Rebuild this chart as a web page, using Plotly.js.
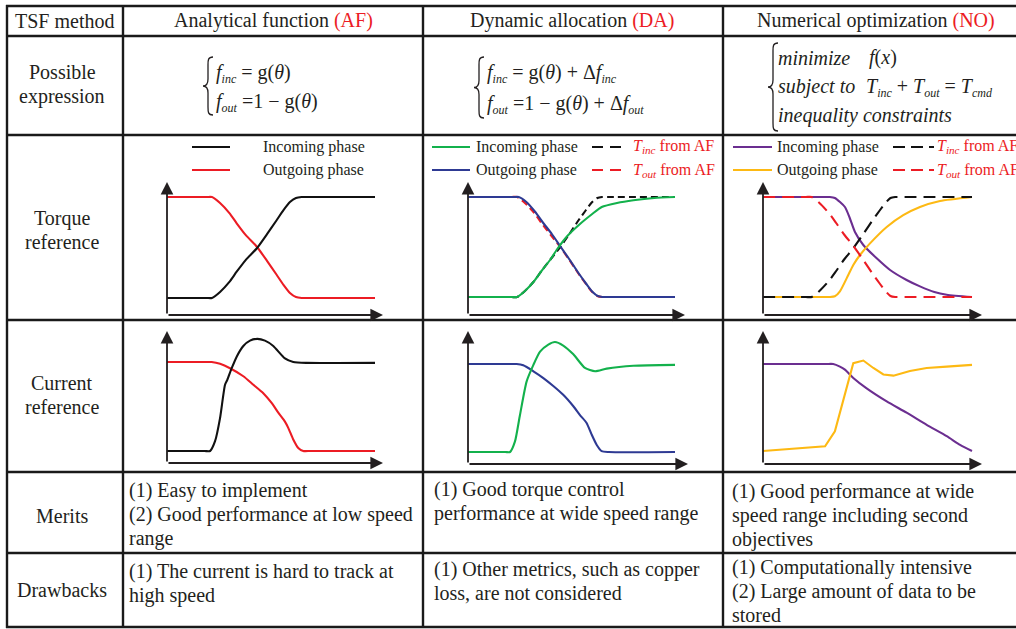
<!DOCTYPE html>
<html><head><meta charset="utf-8">
<script src="https://cdn.plot.ly/plotly-3.0.1.min.js"></script>
<style>html,body{margin:0;padding:0;background:#fff}#chart{width:1016px;height:629px}</style>
</head><body><div id="chart"></div>
<script>
// ---------------- DATA ----------------
// Torque reference – Analytical function (AF)
const afTorqueX   = [0, 1.9, 2.16, 2.55, 3.0, 3.35, 3.8, 4.31, 4.8, 5.27, 5.6, 5.91, 6.2, 6.47, 6.8, 10];
const afTorqueInc = [0, 0, 0, 0.06, 0.16, 0.26, 0.38, 0.49, 0.63, 0.77, 0.87, 0.95, 0.99, 1, 1, 1];
const afTorqueOut = [1, 1, 1, 0.94, 0.84, 0.74, 0.62, 0.51, 0.37, 0.23, 0.13, 0.05, 0.01, 0, 0, 0];
// Torque reference – Dynamic allocation (DA)
const daAfX       = [0, 2.1, 2.37, 2.75, 3.2, 3.55, 4.0, 4.42, 4.9, 5.35, 5.7, 6.0, 6.25, 6.47, 6.8, 10];
const daAfInc     = [0, 0, 0, 0.06, 0.16, 0.26, 0.38, 0.49, 0.63, 0.77, 0.87, 0.95, 0.99, 1, 1, 1];
const daAfOut     = [1, 1, 1, 0.94, 0.84, 0.74, 0.62, 0.51, 0.37, 0.23, 0.13, 0.05, 0.01, 0, 0, 0];
const daOutX      = [0, 2.2, 2.45, 2.82, 3.25, 3.6, 4.05, 4.45, 4.92, 5.37, 5.72, 6.02, 6.27, 6.5, 6.8, 10];
const daTorqueOut = [1, 1, 1, 0.95, 0.85, 0.75, 0.63, 0.51, 0.37, 0.23, 0.13, 0.05, 0.01, 0, 0, 0];
const daIncX      = [0, 2.1, 2.37, 2.75, 3.2, 3.55, 4.0, 4.28, 4.8, 5.41, 6.0, 6.46, 7.2, 7.99, 9.0, 10];
const daTorqueInc = [0, 0, 0, 0.06, 0.16, 0.26, 0.38, 0.47, 0.61, 0.73, 0.83, 0.9, 0.94, 0.967, 0.99, 1];
// Torque reference – Numerical optimization (NO)
const noAfX       = [0, 2.05, 2.33, 2.7, 3.15, 3.5, 3.9, 4.33, 4.8, 5.25, 5.6, 5.9, 6.1, 6.32, 6.65, 10];
const noAfInc     = [0, 0, 0, 0.06, 0.16, 0.26, 0.38, 0.49, 0.63, 0.77, 0.87, 0.95, 0.99, 1, 1, 1];
const noAfOut     = [1, 1, 1, 0.94, 0.84, 0.74, 0.62, 0.51, 0.37, 0.23, 0.13, 0.05, 0.01, 0, 0, 0];
const noIncX      = [0, 2.9, 3.2, 3.44, 3.92, 4.16, 4.4, 4.8, 5.44, 6.08, 6.87, 7.51, 8.2, 8.79, 10];
const noTorqueInc = [1, 1, 1, 0.99, 0.90, 0.785, 0.65, 0.52, 0.387, 0.27, 0.17, 0.106, 0.05, 0.023, 0];
const noOutX      = [0, 2.9, 3.2, 3.44, 3.68, 4.08, 4.32, 4.64, 5.12, 5.92, 6.71, 7.51, 8.47, 10];
const noTorqueOut = [0, 0, 0, 0.007, 0.056, 0.22, 0.32, 0.42, 0.536, 0.70, 0.818, 0.90, 0.96, 1.0];
// Current reference – AF
const afCurIncX = [0, 1.8, 2.07, 2.31, 2.55, 2.79, 2.90, 3.11, 3.35, 3.67, 3.99, 4.34, 4.71, 5.11, 5.67, 6.07, 6.71, 10];
const afCurInc  = [0, 0, 0, 0.11, 0.37, 0.745, 0.80, 0.93, 1.06, 1.18, 1.24, 1.26, 1.24, 1.18, 1.04, 1.0, 0.99, 0.99];
const afCurOutX = [0, 1.9, 2.15, 2.55, 3.03, 3.67, 4.15, 4.63, 5.03, 5.35, 5.67, 5.83, 6.07, 6.31, 6.55, 6.9, 10];
const afCurOut  = [1, 1, 1, 0.98, 0.93, 0.84, 0.745, 0.65, 0.54, 0.43, 0.33, 0.26, 0.13, 0.034, 0, 0, 0];
// Current reference – DA
const daCurIncX = [0, 1.8, 2.03, 2.27, 2.51, 2.83, 3.16, 3.48, 3.88, 4.2, 4.6, 5.09, 5.65, 6.14, 6.7, 7.99, 10];
const daCurInc  = [0, 0, 0, 0.12, 0.42, 0.80, 0.99, 1.14, 1.22, 1.25, 1.21, 1.11, 0.955, 0.917, 0.947, 0.98, 0.99];
const daCurOutX = [0, 2.1, 2.35, 2.67, 3.16, 3.64, 4.12, 4.6, 5.09, 5.41, 5.73, 5.97, 6.22, 6.46, 6.8, 10];
const daCurOut  = [1, 1, 1, 0.985, 0.917, 0.84, 0.75, 0.65, 0.52, 0.42, 0.33, 0.2, 0.08, 0.01, 0, 0];
// Current reference – NO
const noCurIncX = [0, 3.0, 3.36, 3.68, 3.92, 4.32, 4.96, 5.92, 6.87, 7.83, 8.79, 9.43, 10];
const noCurInc  = [1, 1, 1, 0.97, 0.935, 0.84, 0.72, 0.57, 0.44, 0.30, 0.17, 0.07, 0];
const noCurOutX = [0, 2.97, 3.44, 3.92, 4.32, 4.8, 5.28, 5.76, 6.24, 7.03, 7.83, 8.79, 10];
const noCurOut  = [0, 0.054, 0.226, 0.65, 1.01, 1.04, 0.954, 0.88, 0.866, 0.92, 0.954, 0.97, 0.99];

// Text
const headers = ['TSF method', 'Analytical function ', 'Dynamic allocation ', 'Numerical optimization '];
const headerTags = ['', '(AF)', '(DA)', '(NO)'];
const rowLabels = [['Possible', 'expression'], ['Torque', 'reference'], ['Current', 'reference'], ['Merits'], ['Drawbacks']];
const meritsText = [
  ['(1) Easy to implement', '(2) Good performance at low speed', 'range'],
  ['(1) Good torque control', 'performance at wide speed range'],
  ['(1) Good performance at wide', 'speed range including second', 'objectives']
];
const drawbackText = [
  ['(1) The current is hard to track at', 'high speed'],
  ['(1) Other metrics, such as copper', 'loss, are not considered'],
  ['(1) Computationally intensive', '(2) Large amount of data to be', 'stored']
];

// ---------------- LAYOUT HELPERS ----------------
const W = 1016, H = 629;
const X = px => px / W, Y = py => 1 - py / H;
const INK = '#231f20', RED = '#ec1c24', BLACK = '#111111', GREEN = '#13b14c',
      BLUE = '#2e3a93', PURPLE = '#6b2e90', YELLOW = '#fdb913';
const FONT = 'Liberation Serif';

const panels = [
  {id: '',  ox: 167, sx: 20.8, oy: 298, sy: 101, axisY: 315, tipX: 383, tipY: 182, box: [130, 410, 140, 318]},
  {id: '2', ox: 468, sx: 20.7, oy: 297, sy: 100, axisY: 315, tipX: 685, tipY: 182, box: [430, 712, 140, 318]},
  {id: '3', ox: 763, sx: 20.9, oy: 297, sy: 100, axisY: 315, tipX: 982, tipY: 182, box: [728, 1012, 140, 318]},
  {id: '4', ox: 167, sx: 20.8, oy: 451, sy: 89,  axisY: 463, tipX: 383, tipY: 331, box: [130, 410, 323, 470]},
  {id: '5', ox: 468, sx: 20.7, oy: 452, sy: 88,  axisY: 464, tipX: 688, tipY: 331, box: [430, 712, 323, 470]},
  {id: '6', ox: 763, sx: 20.9, oy: 451, sy: 87,  axisY: 464, tipX: 982, tipY: 331, box: [728, 1012, 323, 470]}
];

const series = [
  // panel index, x, y, color, dash, shape
  [0, afTorqueX, afTorqueOut, RED, 'solid', 'spline'],
  [0, afTorqueX, afTorqueInc, BLACK, 'solid', 'spline'],
  [1, daAfX, daAfOut, RED, '7px,4px', 'spline'],
  [1, daAfX, daAfInc, BLACK, '7px,4px', 'spline'],
  [1, daOutX, daTorqueOut, BLUE, 'solid', 'spline'],
  [1, daIncX, daTorqueInc, GREEN, 'solid', 'spline'],
  [2, noIncX, noTorqueInc, PURPLE, 'solid', 'spline'],
  [2, noOutX, noTorqueOut, YELLOW, 'solid', 'spline'],
  [2, noAfX, noAfInc, BLACK, '12px,7px', 'spline'],
  [2, noAfX, noAfOut, RED, '12px,7px', 'spline'],
  [3, afCurOutX, afCurOut, RED, 'solid', 'spline'],
  [3, afCurIncX, afCurInc, BLACK, 'solid', 'spline'],
  [4, daCurOutX, daCurOut, BLUE, 'solid', 'spline'],
  [4, daCurIncX, daCurInc, GREEN, 'solid', 'spline'],
  [5, noCurIncX, noCurInc, PURPLE, 'solid', 'spline'],
  [5, noCurOutX, noCurOut, YELLOW, 'solid', 'linear']
];

const traces = series.map(s => {
  const p = panels[s[0]];
  return {x: s[1], y: s[2], type: 'scatter', mode: 'lines', xaxis: 'x' + p.id, yaxis: 'y' + p.id,
    line: {color: s[3], width: 2.1, dash: s[4], shape: s[5], smoothing: 0.6},
    showlegend: false, hoverinfo: 'skip'};
});

const layout = {
  width: W, height: H, margin: {l: 0, r: 0, t: 0, b: 0},
  paper_bgcolor: '#fff', plot_bgcolor: 'rgba(0,0,0,0)', showlegend: false,
  font: {family: FONT, color: INK, size: 20},
  shapes: [], annotations: []
};

panels.forEach(p => {
  const [x0, x1, yTop, yBot] = p.box;
  layout['xaxis' + p.id] = {domain: [X(x0), X(x1)], range: [(x0 - p.ox) / p.sx, (x1 - p.ox) / p.sx],
    visible: false, fixedrange: true, anchor: 'y' + p.id};
  layout['yaxis' + p.id] = {domain: [Y(yBot), Y(yTop)], range: [(p.oy - yBot) / p.sy, (p.oy - yTop) / p.sy],
    visible: false, fixedrange: true, anchor: 'x' + p.id};
  const ay = (p.oy - p.axisY) / p.sy;
  const common = {xref: 'x' + p.id, yref: 'y' + p.id, axref: 'x' + p.id, ayref: 'y' + p.id, text: '',
    font: {size: 10}, showarrow: true, arrowhead: 2, arrowsize: 1.4, arrowwidth: 1.8, arrowcolor: INK, standoff: 0};
  layout.annotations.push(Object.assign({}, common, {x: (p.tipX - p.ox) / p.sx, y: ay, ax: 0, ay: ay}));
  layout.annotations.push(Object.assign({}, common, {x: 0, y: (p.oy - p.tipY) / p.sy, ax: 0, ay: ay}));
});

// table grid
const hLines = [6, 36, 135, 320, 472, 553, 627];
const vLines = [7, 123, 423, 723];
hLines.forEach(y => layout.shapes.push({type: 'line', xref: 'paper', yref: 'paper', x0: X(6), x1: X(1016), y0: Y(y), y1: Y(y), line: {color: '#1a1a1a', width: 2.4}}));
vLines.forEach(x => layout.shapes.push({type: 'line', xref: 'paper', yref: 'paper', x0: X(x), x1: X(x), y0: Y(5), y1: Y(628), line: {color: '#1a1a1a', width: 2.4}}));

// braces
function brace(bx, t, b) {
  const m = (t + b) / 2;
  const P = (x, y) => X(x) + ',' + Y(y);
  return 'M ' + P(bx + 5, t) + ' C ' + P(bx, t) + ' ' + P(bx, t + 3) + ' ' + P(bx, t + 8) +
    ' L ' + P(bx, m - 7) + ' C ' + P(bx, m - 2) + ' ' + P(bx - 2, m) + ' ' + P(bx - 5, m) +
    ' C ' + P(bx - 2, m) + ' ' + P(bx, m + 2) + ' ' + P(bx, m + 7) +
    ' L ' + P(bx, b - 8) + ' C ' + P(bx, b - 3) + ' ' + P(bx, b) + ' ' + P(bx + 5, b);
}
[[208, 57, 115], [479, 57, 118], [773, 43, 131]].forEach(b => layout.shapes.push({type: 'path', xref: 'paper', yref: 'paper', path: brace(b[0], b[1], b[2]), line: {color: INK, width: 1.3}}));

// legend samples
function seg(x0, x1, y, color, dash) {
  layout.shapes.push({type: 'line', xref: 'paper', yref: 'paper', x0: X(x0), x1: X(x1), y0: Y(y), y1: Y(y), line: {color: color, width: 2, dash: dash}});
}
seg(192, 230, 147, BLACK, 'solid'); seg(192, 230, 170, RED, 'solid');
seg(432, 470, 147, GREEN, 'solid'); seg(432, 470, 170, BLUE, 'solid');
seg(592, 626, 147, BLACK, '11px,7px'); seg(592, 626, 170, RED, '11px,7px');
seg(733, 772, 147, PURPLE, 'solid'); seg(733, 772, 170, YELLOW, 'solid');
seg(893, 934, 147, BLACK, '12px,6px'); seg(893, 934, 170, RED, '12px,6px');

function txt(text, x, y, anchor, size, color) {
  layout.annotations.push({xref: 'paper', yref: 'paper', x: X(x), y: Y(y), xanchor: anchor || 'center', yanchor: 'middle',
    text: text, showarrow: false, font: {family: FONT, size: size || 20, color: color || INK}, borderpad: 0});
}
const sub = s => '<sub><span style="font-size:12px"><i>' + s + '</i></span></sub>';
// headers
const headerX = [64, 273, 572, 876];
headers.forEach((h, i) => txt(h + (headerTags[i] ? '<span style="color:' + RED + '">' + headerTags[i] + '</span>' : ''), headerX[i], 21));
// row labels
const rowY = [[72, 96], [218, 242], [383, 407], [516], [590]];
rowLabels.forEach((lines, i) => lines.forEach((l, j) => txt(l, 62, rowY[i][j])));
// merits / drawbacks
const colX = [128, 433, 731];
const meritY = [[490, 514, 538], [489, 513], [491, 515, 539]];
const drawY = [[571, 595], [569, 593], [567, 591, 615]];
meritsText.forEach((lines, i) => lines.forEach((l, j) => txt(l, colX[i], meritY[i][j], 'left')));
drawbackText.forEach((lines, i) => lines.forEach((l, j) => txt(l, colX[i], drawY[i][j], 'left')));
// legend texts
txt('Incoming phase', 262, 147, 'left', 16); txt('Outgoing phase', 262, 170, 'left', 16);
txt('Incoming phase', 475, 147, 'left', 16); txt('Outgoing phase', 475, 170, 'left', 16);
txt('<i>T</i><sub><i>inc</i></sub> from AF', 632, 147, 'left', 16, RED); txt('<i>T</i><sub><i>out</i></sub> from AF', 632, 170, 'left', 16, RED);
txt('Incoming phase', 776, 147, 'left', 16); txt('Outgoing phase', 776, 170, 'left', 16);
txt('<i>T</i><sub><i>inc</i></sub> from AF', 936, 147, 'left', 16, RED); txt('<i>T</i><sub><i>out</i></sub> from AF', 936, 170, 'left', 16, RED);
// formulas
txt('<i>f</i>' + sub('inc') + ' = g(<i>θ</i>)', 215, 73, 'left', 20);
txt('<i>f</i>' + sub('out') + ' =1 − g(<i>θ</i>)', 215, 102, 'left', 20);
txt('<i>f</i>' + sub('inc') + ' = g(<i>θ</i>) + Δ<i>f</i>' + sub('inc'), 486, 73, 'left', 20);
txt('<i>f</i>' + sub('out') + ' =1 − g(<i>θ</i>) + Δ<i>f</i>' + sub('out'), 486, 104, 'left', 20);
txt('<i>minimize</i>', 777, 58, 'left', 20);
txt('<i>f</i>(<i>x</i>)', 868, 58, 'left', 20);
txt('<i>subject to</i>', 777, 87, 'left', 20);
txt('<i>T</i>' + sub('inc') + ' + <i>T</i>' + sub('out') + ' = <i>T</i>' + sub('cmd'), 865, 88, 'left', 20);
txt('<i>inequality constraints</i>', 777, 115, 'left', 20);

Plotly.newPlot('chart', traces, layout, {displayModeBar: false, staticPlot: true});
</script></body></html>
